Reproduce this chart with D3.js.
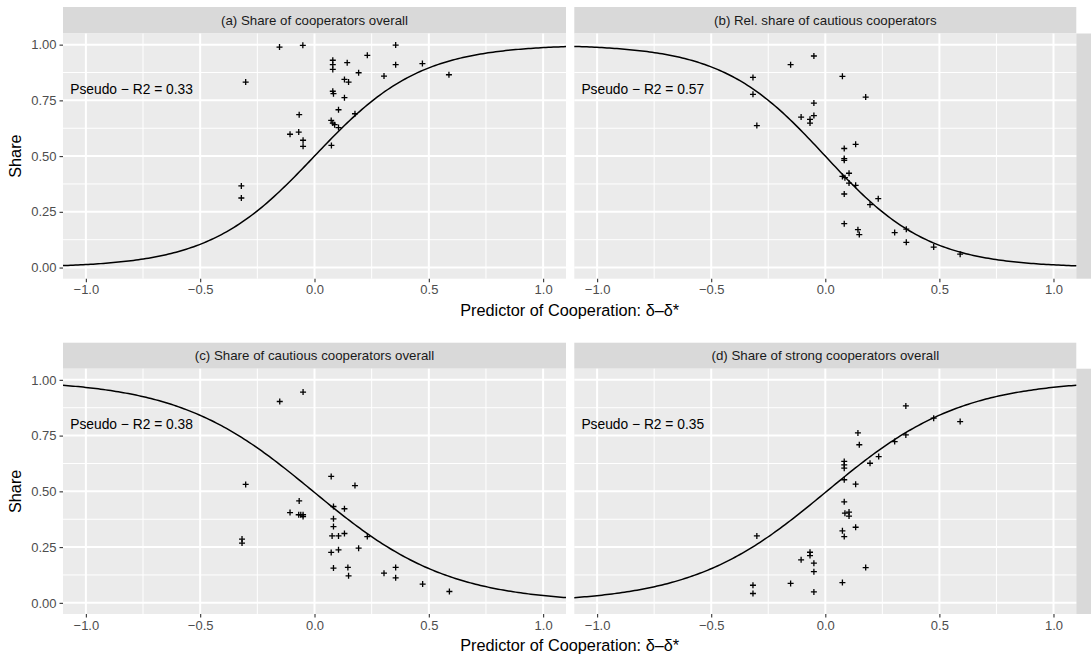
<!DOCTYPE html>
<html>
<head>
<meta charset="utf-8">
<script src="https://cdn.jsdelivr.net/npm/d3@7"></script>
<style>
  html, body { margin: 0; padding: 0; background: #ffffff; }
  svg { display: block; font-family: "Liberation Sans", Arial, Helvetica, sans-serif; }
</style>
</head>
<body>
<svg id="chart" width="1091" height="657"></svg>
<script>
// ---------- data ----------
const panelTitles = [
  "(a) Share of cooperators overall",
  "(b) Rel. share of cautious cooperators",
  "(c) Share of cautious cooperators overall",
  "(d) Share of strong cooperators overall"
];
const r2Labels = ["Pseudo \u2212 R2 = 0.33", "Pseudo \u2212 R2 = 0.57", "Pseudo \u2212 R2 = 0.38", "Pseudo \u2212 R2 = 0.35"];

const xA = [-0.153, -0.051, 0.355, 0.231, 0.080, 0.080, 0.080, 0.143, 0.355, 0.472, 0.193, 0.304, 0.588, -0.301, 0.131, 0.149, 0.080, 0.083, 0.131, 0.105, -0.067, 0.177, 0.073, 0.080, 0.088, 0.105, -0.107, -0.069, -0.050, -0.050, 0.074, -0.320, -0.320];
const yA = [0.989, 0.997, 0.998, 0.952, 0.930, 0.910, 0.889, 0.919, 0.910, 0.915, 0.874, 0.859, 0.865, 0.832, 0.844, 0.832, 0.791, 0.780, 0.762, 0.708, 0.686, 0.690, 0.660, 0.648, 0.641, 0.628, 0.598, 0.608, 0.571, 0.544, 0.548, 0.366, 0.312];

const xB = [-0.050, -0.152, -0.317, 0.075, -0.317, 0.177, -0.050, -0.106, -0.050, -0.067, -0.067, -0.300, 0.083, 0.133, 0.083, 0.083, 0.104, 0.075, 0.086, 0.104, 0.133, 0.083, 0.232, 0.196, 0.083, 0.143, 0.149, 0.304, 0.355, 0.355, 0.475, 0.591];
const yB = [0.949, 0.910, 0.853, 0.858, 0.777, 0.765, 0.738, 0.675, 0.682, 0.665, 0.648, 0.637, 0.534, 0.553, 0.489, 0.481, 0.423, 0.409, 0.403, 0.379, 0.369, 0.330, 0.309, 0.282, 0.197, 0.170, 0.148, 0.157, 0.172, 0.113, 0.092, 0.060];

const xC = [-0.050, -0.152, 0.073, -0.301, 0.177, -0.067, 0.083, 0.131, -0.107, -0.069, -0.060, -0.050, -0.050, 0.083, 0.083, 0.077, 0.105, 0.131, 0.231, -0.317, -0.317, 0.105, 0.073, 0.193, 0.083, 0.146, 0.149, 0.304, 0.355, 0.355, 0.473, 0.590];
const yC = [0.945, 0.903, 0.567, 0.531, 0.526, 0.457, 0.432, 0.422, 0.405, 0.395, 0.395, 0.395, 0.387, 0.377, 0.342, 0.300, 0.300, 0.311, 0.297, 0.286, 0.268, 0.238, 0.226, 0.245, 0.156, 0.159, 0.121, 0.133, 0.159, 0.112, 0.084, 0.051];

const xD = [0.353, 0.475, 0.591, 0.143, 0.353, 0.304, 0.149, 0.234, 0.196, 0.083, 0.083, 0.083, 0.083, 0.133, 0.083, 0.086, 0.104, 0.104, 0.133, 0.075, 0.083, -0.300, -0.067, -0.067, -0.106, -0.050, -0.050, 0.177, -0.317, -0.317, -0.152, 0.075, -0.050];
const yD = [0.883, 0.828, 0.813, 0.762, 0.753, 0.723, 0.709, 0.656, 0.626, 0.634, 0.619, 0.604, 0.552, 0.532, 0.453, 0.402, 0.407, 0.389, 0.339, 0.323, 0.297, 0.300, 0.227, 0.212, 0.193, 0.178, 0.140, 0.158, 0.079, 0.042, 0.087, 0.091, 0.049];

// logistic fit coefficients [intercept, slope]
const fitA = [0.00, 4.30];
const fitB = [0.00, -4.40];
const fitC = [-0.02, -3.37];
const fitD = [-0.02, 3.38];

const xTicks = [-1.0, -0.5, 0.0, 0.5, 1.0];
const xTickLabels = ["\u22121.0", "\u22120.5", "0.0", "0.5", "1.0"];
const yTicks = [0, 0.25, 0.5, 0.75, 1.0];
const yTickLabels = ["0.00", "0.25", "0.50", "0.75", "1.00"];
const xMinor = [-0.75, -0.25, 0.25, 0.75];
const yMinor = [0.125, 0.375, 0.625, 0.875];
const xTitle = "Predictor of Cooperation: \u03B4\u2013\u03B4*";
const yTitle = "Share";

// ---------- layout ----------
const svg = d3.select("#chart");
const cols = [[63, 566], [574.3, 1076.3]];
const rows = [{strip: [7, 33.5], panel: [33.5, 278.7]}, {strip: [342.7, 368.7], panel: [368.7, 614]}];
const panels = [
  {x: xA, y: yA, fit: fitA, r: 0, c: 0},
  {x: xB, y: yB, fit: fitB, r: 0, c: 1},
  {x: xC, y: yC, fit: fitC, r: 1, c: 0},
  {x: xD, y: yD, fit: fitD, r: 1, c: 1}
];
const xDomain = [-1.1, 1.1];
const yDomain = [-0.05, 1.05];

panels.forEach((p, i) => {
  const col = cols[p.c], row = rows[p.r];
  const xs = d3.scaleLinear().domain(xDomain).range(col);
  const ys = d3.scaleLinear().domain(yDomain).range([row.panel[1], row.panel[0]]);
  const g = svg.append("g");

  // strip
  g.append("rect").attr("x", col[0]).attr("y", row.strip[0])
    .attr("width", col[1] - col[0]).attr("height", row.strip[1] - row.strip[0])
    .attr("fill", "#D9D9D9");
  g.append("text").attr("x", (col[0] + col[1]) / 2).attr("y", (row.strip[0] + row.strip[1]) / 2)
    .attr("text-anchor", "middle").attr("dy", "0.35em")
    .attr("font-size", "13.3px").attr("fill", "#1A1A1A").text(panelTitles[i]);

  // panel bg
  g.append("rect").attr("x", col[0]).attr("y", row.panel[0])
    .attr("width", col[1] - col[0]).attr("height", row.panel[1] - row.panel[0])
    .attr("fill", "#EBEBEB");

  // right strip for right column (facet grid row strip, clipped by window)
  if (p.c === 1) {
    g.append("rect").attr("x", col[1]).attr("y", row.panel[0])
      .attr("width", 24).attr("height", row.panel[1] - row.panel[0])
      .attr("fill", "#D9D9D9");
  }

  // minor grid
  g.selectAll(".xminor").data(xMinor).enter().append("line")
    .attr("x1", d => xs(d)).attr("x2", d => xs(d))
    .attr("y1", row.panel[0]).attr("y2", row.panel[1])
    .attr("stroke", "#FFFFFF").attr("stroke-width", 1.0);
  g.selectAll(".yminor").data(yMinor).enter().append("line")
    .attr("x1", col[0]).attr("x2", col[1])
    .attr("y1", d => ys(d)).attr("y2", d => ys(d))
    .attr("stroke", "#FFFFFF").attr("stroke-width", 1.0);
  // major grid
  g.selectAll(".xmajor").data(xTicks).enter().append("line")
    .attr("x1", d => xs(d)).attr("x2", d => xs(d))
    .attr("y1", row.panel[0]).attr("y2", row.panel[1])
    .attr("stroke", "#FFFFFF").attr("stroke-width", 2.0);
  g.selectAll(".ymajor").data(yTicks).enter().append("line")
    .attr("x1", col[0]).attr("x2", col[1])
    .attr("y1", d => ys(d)).attr("y2", d => ys(d))
    .attr("stroke", "#FFFFFF").attr("stroke-width", 2.0);

  // fitted logistic curve
  const grid = d3.range(0, 201).map(k => xDomain[0] + (xDomain[1] - xDomain[0]) * k / 200);
  const curve = grid.map(x => [x, 1 / (1 + Math.exp(-(p.fit[0] + p.fit[1] * x)))]);
  g.append("path").datum(curve)
    .attr("d", d3.line().x(d => xs(d[0])).y(d => ys(d[1])))
    .attr("fill", "none").attr("stroke", "#000000").attr("stroke-width", 1.5);

  // points (plus shape)
  const pts = p.x.map((xv, k) => [xv, p.y[k]]);
  g.selectAll(".pt").data(pts).enter().append("path")
    .attr("transform", d => `translate(${xs(d[0])},${ys(d[1])})`)
    .attr("d", "M-3,0H3M0,-3V3")
    .attr("stroke", "#000000").attr("stroke-width", 1.3).attr("fill", "none");

  // annotation
  g.append("text").attr("x", xs(-0.8)).attr("y", ys(0.8))
    .attr("text-anchor", "middle").attr("dy", "0.35em")
    .attr("font-size", "13.8px").attr("fill", "#000000").text(r2Labels[i]);

  // x axis
  const xAxis = d3.axisBottom(xs).tickValues(xTicks).tickSize(3.5).tickPadding(3)
    .tickFormat((d, k) => xTickLabels[k]);
  const xg = g.append("g").attr("transform", `translate(0,${row.panel[1]})`).call(xAxis);
  xg.select(".domain").remove();
  xg.selectAll(".tick line").attr("stroke", "#333333").attr("stroke-width", 1.1);
  xg.selectAll(".tick text").attr("fill", "#4D4D4D").attr("font-size", "13px")
    .attr("font-family", "Liberation Sans, Arial, sans-serif");

  // y axis (left column only)
  if (p.c === 0) {
    const yAxis = d3.axisLeft(ys).tickValues(yTicks).tickSize(3.5).tickPadding(3)
      .tickFormat((d, k) => yTickLabels[k]);
    const yg = g.append("g").attr("transform", `translate(${col[0]},0)`).call(yAxis);
    yg.select(".domain").remove();
    yg.selectAll(".tick line").attr("stroke", "#333333").attr("stroke-width", 1.1);
    yg.selectAll(".tick text").attr("fill", "#4D4D4D").attr("font-size", "13px")
      .attr("font-family", "Liberation Sans, Arial, sans-serif");

    // y title
    const cy = (row.panel[0] + row.panel[1]) / 2;
    g.append("text").attr("transform", `translate(15.5,${cy}) rotate(-90)`)
      .attr("text-anchor", "middle").attr("dy", "0.35em")
      .attr("font-size", "16.3px").attr("fill", "#000000").text(yTitle);
  }
});

// x titles
rows.forEach(row => {
  svg.append("text").attr("x", (cols[0][0] + cols[1][1]) / 2).attr("y", row.panel[1] + 31.5)
    .attr("text-anchor", "middle").attr("dy", "0.35em")
    .attr("font-size", "16.3px").attr("fill", "#000000").text(xTitle);
});
</script>
</body>
</html>
